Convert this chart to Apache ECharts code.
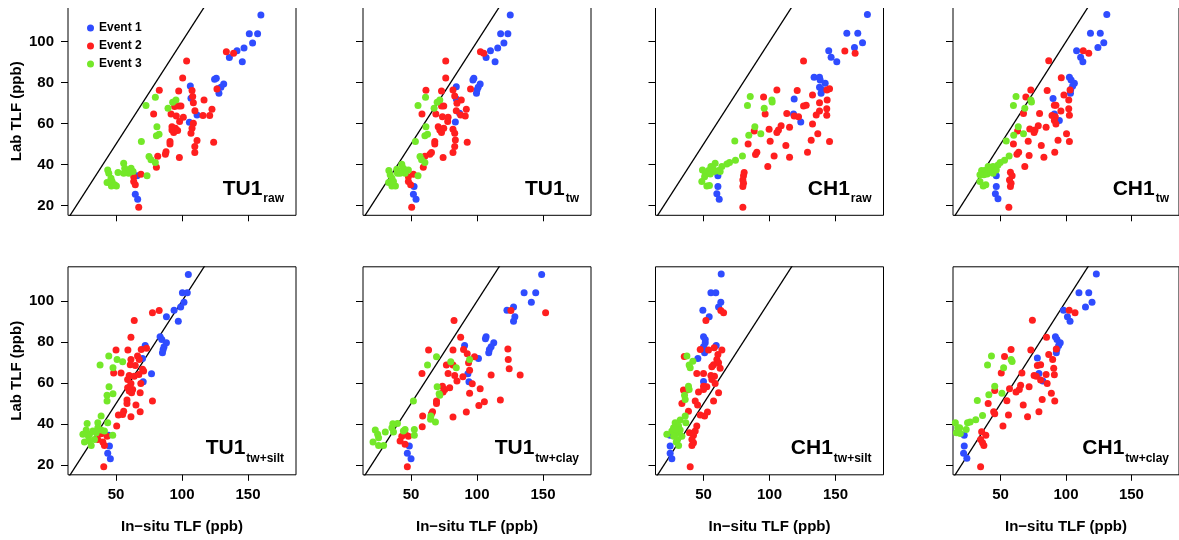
<!DOCTYPE html>
<html>
<head>
<meta charset="utf-8">
<script src="https://cdn.jsdelivr.net/npm/echarts@6.0.0/dist/echarts.min.js"></script>
<style>
  html, body { margin: 0; padding: 0; background: #fff; }
  #chart { width: 1179px; height: 540px; }
</style>
</head>
<body>
<div id="chart"></div>
<script>
// ---- data: [in-situ TLF, lab TLF] per panel and event ----
const EVENTS = ["Event 1", "Event 2", "Event 3"];
const COLORS = ["#2f4cff", "#ff1f1f", "#74e829"];
const X_TICKS = [50, 100, 150];
const Y_TICKS = [20, 40, 60, 80, 100];
const PANEL_MAIN = ["TU1", "TU1", "CH1", "CH1", "TU1", "TU1", "CH1", "CH1"];
const PANEL_SUB = ["raw", "tw", "raw", "tw", "tw+silt", "tw+clay", "tw+silt", "tw+clay"];

const tu1Raw1 = [[159.8,113],[151,103.9],[157.3,103.9],[153.5,99.3],[147,96.9],[141.7,95.6],[135.9,92.2],[145.7,90.2],[126,82.1],[124.7,81.6],[131.6,79.3],[129.5,77.7],[128,74.8],[127,77],[106.3,78.4],[106.8,72.4],[111.4,64.2],[105.6,60.7],[64.6,25.5],[66.4,23.1],[65.9,34.6]];
const tu1Raw2 = [[133.6,95.1],[139.1,94.3],[126.5,76.9],[103.5,90.6],[100.5,82.3],[82.8,76.3],[97.5,75.9],[107.6,76.1],[108.1,73.2],[116.7,71.5],[108.6,70.2],[97.5,68.6],[99.2,68.6],[94.4,68.3],[78.5,64.7],[91.7,64.7],[95.7,63.7],[101,63.1],[109.8,66.3],[115.9,63.9],[121,63.9],[122.7,67],[98.2,61],[92.4,58.5],[95,57.7],[92.4,56.9],[93.7,55.6],[96.7,56.6],[108.6,60.2],[107.6,57.7],[106.8,55.3],[111.4,51.7],[109.7,48.8],[109.7,45.9],[124,50.9],[90.9,51.2],[90.9,50.1],[87.9,46.3],[87.4,45],[98,43.4],[81.6,44.1],[80.6,38.7],[68.9,35.3],[63.4,34.1],[63.4,31.7],[64.6,30.1],[67.2,19.2]];
const tu1Raw3 = [[79.8,72.8],[72.7,68.8],[89.4,67.5],[92.9,70.4],[95.4,71.5],[81,58.5],[80.6,54.1],[82.6,54.8],[69.2,51.2],[75,43.9],[76.5,42.3],[79.8,41],[73.5,34.6],[43.7,37.4],[44.5,35.8],[46.2,33.3],[43.2,31.2],[46.5,29.6],[50.3,29.6],[51.5,36.1],[55.8,40.7],[56.6,38.2],[61.4,38.2],[62.9,36.6],[59.6,35.8],[55.8,35.8],[47,31.7],[49,30.1]];

const tu1Tw1 = [[125.2,113],[117.9,103.9],[123.4,103.9],[120.4,99.3],[115.7,96.9],[110.2,95.6],[106.9,92.2],[113.7,90.2],[97.6,82.1],[96.9,81.3],[102.4,79.3],[100.9,77.7],[99.6,74.8],[100,76.4],[84.3,78],[84.3,72],[86.8,65],[83.6,60.8],[52.3,29.3],[51.8,25.5],[53.8,23.1]];
const tu1Tw2 = [[102.6,95.1],[105.1,94.3],[95.1,76.9],[76.3,90.6],[76.3,82.3],[61.3,76.3],[73.1,75.9],[81.8,76.4],[83.1,73.5],[88.1,71.5],[84.8,69.9],[74.8,68.6],[73.1,68.6],[58.3,64.7],[68.8,64.7],[73.8,63.4],[78.1,63.1],[84.3,66.3],[91.9,67],[87.6,64.2],[91.1,63.7],[77.8,61],[70.6,58.5],[71.8,56.9],[73.1,55.6],[74.8,57.7],[81.8,57.2],[83.1,55.3],[83.6,52],[83.1,48.8],[92.6,50.9],[68,51.2],[68,50.1],[65.5,45.9],[64.3,45],[74.3,43.4],[81.8,45.9],[60.5,44.1],[59.3,38.7],[51.8,35.3],[48,34.1],[48,31.7],[49.7,30.1],[50.5,19.2]];
const tu1Tw3 = [[61,72.8],[55.3,68.8],[67.5,67.5],[69.8,70.4],[71.8,71.5],[61.3,58.5],[60.5,54.1],[62.5,54.8],[53.3,51.2],[56.8,43.9],[58,42.3],[60.5,41],[55.3,34.6],[33.2,37.1],[34.2,35],[35.5,33.3],[33,31.2],[35.5,29.6],[38.2,29.6],[39.7,35.8],[43,40.2],[44.2,38.2],[48,37.4],[45.5,35.8],[41.7,35.8],[39.2,37.7],[36.7,31.7]];

const ch1Raw1 = [[174.2,113.2],[158.6,104.1],[166.9,104.1],[170.5,99.5],[164.4,97.1],[144.9,95.6],[146.7,92.4],[151,90.2],[133.8,82.6],[137.9,82.6],[138.4,81.3],[142.2,79.7],[137.9,77.7],[139.6,76.7],[139.1,74.8],[118.7,72],[118.2,64.7],[123.7,60.8],[60.9,34.5],[60.9,29.3],[60.1,25.7],[61.9,23.1]];
const ch1Raw2 = [[157.1,95.4],[164.9,94.3],[125.8,90.6],[105.6,76.4],[121,76.1],[132.6,74],[143.5,76.4],[145.5,77],[95.5,73],[96.7,64.7],[113.1,64.9],[118.7,63.7],[122,63.4],[125.8,68.6],[127.8,68.9],[137.9,70.2],[143.7,71.5],[143.4,67.2],[143.4,64.1],[137.9,66.2],[135.4,64.2],[132.6,59.8],[136.6,55.1],[131.6,51.9],[145.5,51.2],[128.8,46],[115.2,58.2],[108.8,58.9],[106.8,56.9],[105.6,55.6],[99.7,57.2],[88.4,56.4],[100.5,51.4],[112.4,49.3],[83.8,50.1],[90.4,46],[89.4,44.9],[103.5,44.2],[115.2,43.6],[98.7,39],[80.8,36.1],[80.3,34.5],[79.8,32.5],[80.3,30.9],[79.8,29.3],[79.8,19.2]];
const ch1Raw3 = [[85.4,73.2],[83.3,68.8],[101.8,71.5],[102,70.6],[96,67.5],[88.9,58.4],[84.3,54.3],[93.4,55],[73.7,51.5],[79.5,44.2],[74.2,42.1],[69.7,41],[67.7,40.3],[63.9,39],[61.4,37.1],[58.8,40.7],[55.6,39],[53.8,37.1],[49.2,37.4],[51.3,35.4],[55.1,35.4],[58.1,36.6],[48.7,31.7],[52.5,29.6],[54.5,29.8],[50.8,34.1],[62.6,36.6],[57.1,38.2]];

const ch1Tw1 = [[131.2,113.3],[118.7,104.1],[126.2,104.1],[128.9,99.5],[124.4,97.1],[108.1,95.6],[111.2,92.4],[112.9,90.2],[102.6,82.6],[103.9,81.3],[106.4,79.7],[105.1,78.4],[103.6,76.7],[103.4,74.8],[90.1,72.2],[91.1,64.7],[94.9,61.5],[46.7,34.5],[46.7,29.3],[46,25.7],[48,23.3]];
const ch1Tw2 = [[113.2,95.6],[117.4,94.3],[86.8,90.7],[96.4,82.4],[73.1,76.4],[85.6,76.1],[98.4,74],[103.1,76.4],[69.3,73],[67.5,64.9],[79.8,64.9],[89.3,63.9],[91.8,63.4],[91.1,68.9],[92.3,68.9],[102.1,71.5],[102.1,67.2],[102.6,64.1],[96.1,66.2],[91.1,61.5],[92.3,59.8],[100.4,55.1],[93.9,51.9],[102.6,51.2],[91.4,46],[84.8,58.2],[78.8,58.9],[76.3,56.9],[75.6,55.6],[72.3,57.4],[63,56.4],[71.1,51.4],[81.1,49.3],[59.8,50.1],[63.8,46],[62.5,45],[71.8,44.4],[83.1,43.6],[68.5,39],[57.5,36.3],[58.8,34.5],[56.8,32.5],[58,30.9],[57.5,29.3],[56.3,19.2]];
const ch1Tw3 = [[61.8,73.2],[59.8,68.8],[73.1,71.5],[73.6,70.6],[68.5,67.5],[63.5,58.4],[60,54.3],[67.5,55],[54.3,51.5],[56.5,44.2],[53,42.1],[49.7,41],[48,39.8],[44.2,39],[41.7,37.4],[40.5,39],[37.9,37.1],[35.5,37.1],[34.2,35],[37.2,35],[39.7,35.4],[42.5,36.6],[34.2,31.7],[36.7,29.6],[38.7,30.1],[44.2,35.8],[46.7,37.4]];

const tu1Silt1 = [[104.8,113],[100.3,104.1],[104,104.1],[101.5,99.5],[99,97.1],[94,95.6],[88.2,92.4],[97.2,90.2],[83.4,82.6],[84.7,81.3],[88.2,79.7],[86.4,77.7],[85.7,76.4],[85.2,74.8],[72.1,78.4],[70.1,72],[76.9,64.6],[70.6,60.7],[44.2,34.5],[45,29.3],[43.7,25.7],[45.7,23.1]];
const tu1Silt2 = [[77.6,94.3],[82.7,95.4],[63.8,90.6],[61.3,82.4],[50,76.1],[59,76.1],[69.1,76.4],[73.1,77],[66.3,73.2],[67.6,71.5],[61.3,71.5],[48.2,64.9],[53.8,64.9],[60,63.7],[63.8,63.4],[64.6,68.6],[60.8,68.9],[70.1,66.7],[70.9,65.9],[67.3,64.2],[58.8,61.8],[61.3,59.8],[68.8,59.8],[68.3,55.3],[58.8,57.7],[62.6,56.9],[60,56.1],[61.8,55.3],[58.3,51.7],[58.3,50.1],[77.6,51.2],[65.1,49.3],[55.8,46.2],[55,44.7],[51.8,44.4],[61.3,43.6],[68.3,46],[50.5,39],[38.7,35.3],[43.2,34.1],[36.2,32.5],[40,31.2],[41.2,29.6],[40.7,19.2]];
const tu1Silt3 = [[44.5,73.2],[37.9,68.8],[50.8,71.5],[55,70.4],[47.7,67.5],[44.7,58.2],[43.2,54.1],[47.7,54.8],[43.2,51.2],[38.7,43.9],[36.2,40.7],[43.7,40.7],[47.5,34.6],[28.1,40.3],[27.4,37.1],[29.9,35],[26.1,31.2],[31.2,29.6],[29.1,34.1],[32.4,36.6],[36.2,38.2],[38.7,37.1],[35,35.8],[33.7,32.5],[29.9,31.7],[24.9,35],[41.2,36.6]];

const tu1Clay1 = [[149,113],[135.7,104.1],[144.5,104.1],[141.2,99.5],[127.7,97.1],[122.7,95.6],[128.7,92.4],[127.7,90.2],[106.9,82.6],[106.4,81.6],[112.7,79.7],[110.7,77.7],[109.4,76.4],[108.9,74.8],[90.6,78.4],[101.1,72],[93.1,64.6],[93.9,60.7],[48.7,29.3],[47.2,25.7],[50,23.1]];
const tu1Clay2 = [[125.7,95.4],[152,94.3],[82.6,90.6],[87.6,82.4],[63.3,76.1],[81.8,76.1],[89.8,76.4],[92.6,74.3],[123.4,76.7],[98.1,72.8],[123.7,71.5],[124.4,67],[76.8,68.8],[81.8,68.8],[58.3,64.7],[78.1,64.7],[83.1,63.7],[89.3,63.1],[84.8,61],[94.4,66.3],[93.6,69.9],[110.7,63.9],[132.7,63.9],[96.4,59.7],[73.8,58.5],[75.6,56.9],[74.3,55.6],[79.3,57.7],[102.4,57.2],[94.4,55],[69.3,51.2],[69.3,50.1],[105.6,50.9],[117.7,51.7],[101.4,49.1],[66.3,46],[65.5,45],[91.9,45.9],[58.8,43.9],[81.8,43.4],[58.5,38.7],[45.5,35.3],[48,34.1],[41.7,31.7],[45.5,30.1],[43,34.1],[47.2,19.2]];
const tu1Clay3 = [[69.3,72.8],[62.5,68.8],[80.1,70.4],[94.4,71.5],[84.3,67.5],[69.8,58.2],[71.8,54.1],[71.3,54.8],[51.8,51.2],[65,43.9],[64.8,42.3],[68.5,41],[52.5,34.6],[52.5,37.4],[22.9,37.1],[24.7,35],[25.4,33.3],[21.2,31.2],[25.4,29.6],[29.2,29.6],[30.5,36.1],[36.2,40.2],[35.5,38.2],[39.7,40.3],[44.2,36.6],[45.5,37.4],[36.7,36.1]];

const ch1Silt1 = [[63.4,113.2],[55.6,104.1],[59.3,104.1],[63.1,99.5],[61.4,97.1],[49.5,95.6],[54.3,92.4],[50,82.6],[51.3,81.3],[51.3,79.7],[50,77.7],[51.3,76.4],[50.8,74.8],[59.6,78.4],[45.7,72],[50,60.8],[24.7,34.5],[24.7,29.3],[24.7,25.7],[26,23.1]];
const ch1Silt2 = [[63.1,95.4],[65.2,94.3],[51.8,90.6],[47.5,76.4],[53.8,76.1],[58.1,77.2],[63.9,76.1],[60.9,74],[35.4,73],[60.1,71.5],[61.4,69.9],[57.6,68.9],[56.3,68],[62.6,67.2],[44.9,64.7],[50,64.7],[55.6,63.7],[58.3,63.4],[56.3,61.8],[58.8,59.8],[50,58.5],[52.5,58.2],[46.2,55.6],[50,56.9],[61.4,55.3],[34.8,56.6],[37.4,56.6],[43.7,51.2],[45.5,49.3],[33.6,50.1],[57.6,51.2],[53,45.9],[50.8,43.9],[47.5,44.4],[38.6,46.2],[44.9,39],[39.4,35.8],[42.4,34.5],[41.2,32.5],[42.4,30.9],[41.2,29.6],[39.9,19.2],[43.7,36.6]];
const ch1Silt3 = [[37.4,73.2],[39.1,68.8],[41.9,70.7],[39.9,67.5],[38.6,58.5],[35.6,54.1],[36.1,52],[39.1,56.9],[36.1,43.9],[32.3,42],[36.6,40.7],[28.5,40.7],[31.1,39],[27.3,38.2],[26,36.6],[22.2,35],[29.9,35.8],[32.3,37.1],[30.3,32.5],[29.3,31.2],[31.1,29.6],[27.3,34.1],[33.6,34.1],[28.5,37.4]];

const ch1Clay1 = [[123.2,113.3],[109.9,104.1],[117.4,104.1],[119.9,99.5],[114.9,97.1],[98.1,95.6],[101.1,92.4],[103.1,90.2],[91.9,82.6],[93.1,81.3],[95.6,79.7],[94.4,78.4],[93.1,76.7],[92.6,74.8],[78.1,72.2],[79.3,64.7],[82.3,61],[22.2,34.5],[22.2,29.3],[21.7,25.7],[24.2,23.3]];
const ch1Clay2 = [[102.4,95.6],[106.9,94.3],[74.3,90.7],[85.1,82.4],[58,76.4],[73.1,76.1],[86.8,74],[92.6,76.7],[53,73],[50.5,64.9],[66.3,64.9],[78.1,68.6],[80.6,68.9],[89.8,71.5],[90.6,67.2],[91.1,64.1],[84.8,64.2],[75.6,63.7],[77.3,63.4],[80.6,61.5],[85.6,59.8],[56.8,57.2],[65.3,58.9],[64.3,56.9],[61.8,55.6],[71.8,58.2],[45.5,56.4],[40.5,50.1],[54.8,51.4],[67.3,49.3],[81.8,52],[88.8,55],[91.4,51.2],[44.7,46],[45.5,45],[56,44.4],[79.3,46],[70.6,43.6],[51.8,39],[35.5,36.3],[38.7,34.5],[34.7,32.5],[36.2,30.9],[37.2,29.6],[34.7,19.2]];
const ch1Clay3 = [[43,73.2],[40,68.8],[58,71.5],[58.8,70.6],[52.3,67.5],[45.5,58.4],[41,54.3],[51,55],[32.2,51.5],[36.2,44.2],[31,42.1],[26.7,41],[24.7,40.7],[15.4,40.7],[18.7,38.2],[23.7,37.4],[16.2,35.8],[19.2,35.4],[17.2,38.2]];

const ONE_TO_ONE = [[0, 0], [200, 200]];

const PANEL_DATA = [
  [tu1Raw1, tu1Raw2, tu1Raw3],
  [tu1Tw1, tu1Tw2, tu1Tw3],
  [ch1Raw1, ch1Raw2, ch1Raw3],
  [ch1Tw1, ch1Tw2, ch1Tw3],
  [tu1Silt1, tu1Silt2, tu1Silt3],
  [tu1Clay1, tu1Clay2, tu1Clay3],
  [ch1Silt1, ch1Silt2, ch1Silt3],
  [ch1Clay1, ch1Clay2, ch1Clay3]
];

// ---- layout ----
const FONT = '"Liberation Sans", Arial, Helvetica, sans-serif';
const COL_LEFT = [68, 363, 655.5, 953];
const ROW_TOP = [7.3, 266.8];
const PANEL_W = 228;
const PANEL_H = 208;
const X_MIN = 13.6, X_MAX = 186.4;
const Y_MIN = 15.24, Y_MAX = 116.76;

function textWidth(str, size) {
  const ctx = document.createElement("canvas").getContext("2d");
  ctx.font = `bold ${size}px ${FONT}`;
  return ctx.measureText(str).width;
}

const grids = [];
const xAxes = [];
const yAxes = [];
const series = [];
const graphics = [];

PANEL_DATA.forEach((events, i) => {
  const row = Math.floor(i / 4);
  const col = i % 4;
  const left = COL_LEFT[col];
  const top = ROW_TOP[row];
  const bottomRow = row === 1;
  const firstCol = col === 0;

  grids.push({
    left, top, width: PANEL_W, height: PANEL_H,
    show: true, borderColor: "#000", borderWidth: 1, backgroundColor: "transparent"
  });

  xAxes.push({
    gridIndex: i, type: "value", min: X_MIN, max: X_MAX,
    axisLine: { show: false },
    splitLine: { show: false },
    axisTick: { show: true, length: 6, customValues: X_TICKS, lineStyle: { color: "#000", width: 1 } },
    axisLabel: {
      show: bottomRow, customValues: X_TICKS, margin: 13,
      color: "#000", fontSize: 15, fontWeight: "bold", fontFamily: FONT
    },
    name: bottomRow ? "In\u2212situ TLF (ppb)" : "",
    nameLocation: "middle", nameGap: 45,
    nameTextStyle: { color: "#000", fontSize: 15, fontWeight: "bold", fontFamily: FONT }
  });

  yAxes.push({
    gridIndex: i, type: "value", min: Y_MIN, max: Y_MAX,
    axisLine: { show: false },
    splitLine: { show: false },
    axisTick: { show: true, length: 7, customValues: Y_TICKS, lineStyle: { color: "#000", width: 1 } },
    axisLabel: {
      show: firstCol, customValues: Y_TICKS, margin: 14,
      color: "#000", fontSize: 15, fontWeight: "bold", fontFamily: FONT
    },
    name: firstCol ? "Lab TLF (ppb)" : "",
    nameLocation: "middle", nameGap: 44,
    nameTextStyle: { color: "#000", fontSize: 15, fontWeight: "bold", fontFamily: FONT }
  });

  series.push({
    type: "line", xAxisIndex: i, yAxisIndex: i, data: ONE_TO_ONE,
    symbol: "none", silent: true, clip: true, z: 1,
    lineStyle: { color: "#000", width: 1.3 }
  });

  events.forEach((pts, k) => {
    series.push({
      name: EVENTS[k], type: "scatter", xAxisIndex: i, yAxisIndex: i,
      data: pts, symbolSize: 7, clip: true, z: 2,
      itemStyle: { color: COLORS[k], opacity: 1 }
    });
  });

  // panel label: main + subscript, right aligned near bottom-right corner
  const right = left + PANEL_W - 12;
  const bottom = top + PANEL_H;
  const subW = textWidth(PANEL_SUB[i], 12);
  graphics.push({
    type: "text", x: right - subW - 1, y: bottom - 15.6, z: 50,
    style: { text: PANEL_MAIN[i], fill: "#000", font: `bold 21px ${FONT}`, align: "right", verticalAlign: "bottom" }
  });
  graphics.push({
    type: "text", x: right, y: bottom - 10.2, z: 50,
    style: { text: PANEL_SUB[i], fill: "#000", font: `bold 12px ${FONT}`, align: "right", verticalAlign: "bottom" }
  });
});

// the top row is cropped just below its upper border
graphics.push({
  type: "rect", z: 100, shape: { x: 0, y: 0, width: 1179, height: 8 },
  style: { fill: "#fff" }
});

const chart = echarts.init(document.getElementById("chart"), null, { renderer: "canvas" });
chart.setOption({
  animation: false,
  backgroundColor: "#fff",
  legend: {
    data: EVENTS, orient: "vertical", left: 82, top: 17,
    icon: "circle", itemWidth: 7, itemHeight: 7, itemGap: 6,
    selectedMode: false,
    textStyle: { color: "#000", fontSize: 12, fontWeight: "bold", fontFamily: FONT }
  },
  grid: grids,
  xAxis: xAxes,
  yAxis: yAxes,
  series,
  graphic: graphics
});
</script>
</body>
</html>
